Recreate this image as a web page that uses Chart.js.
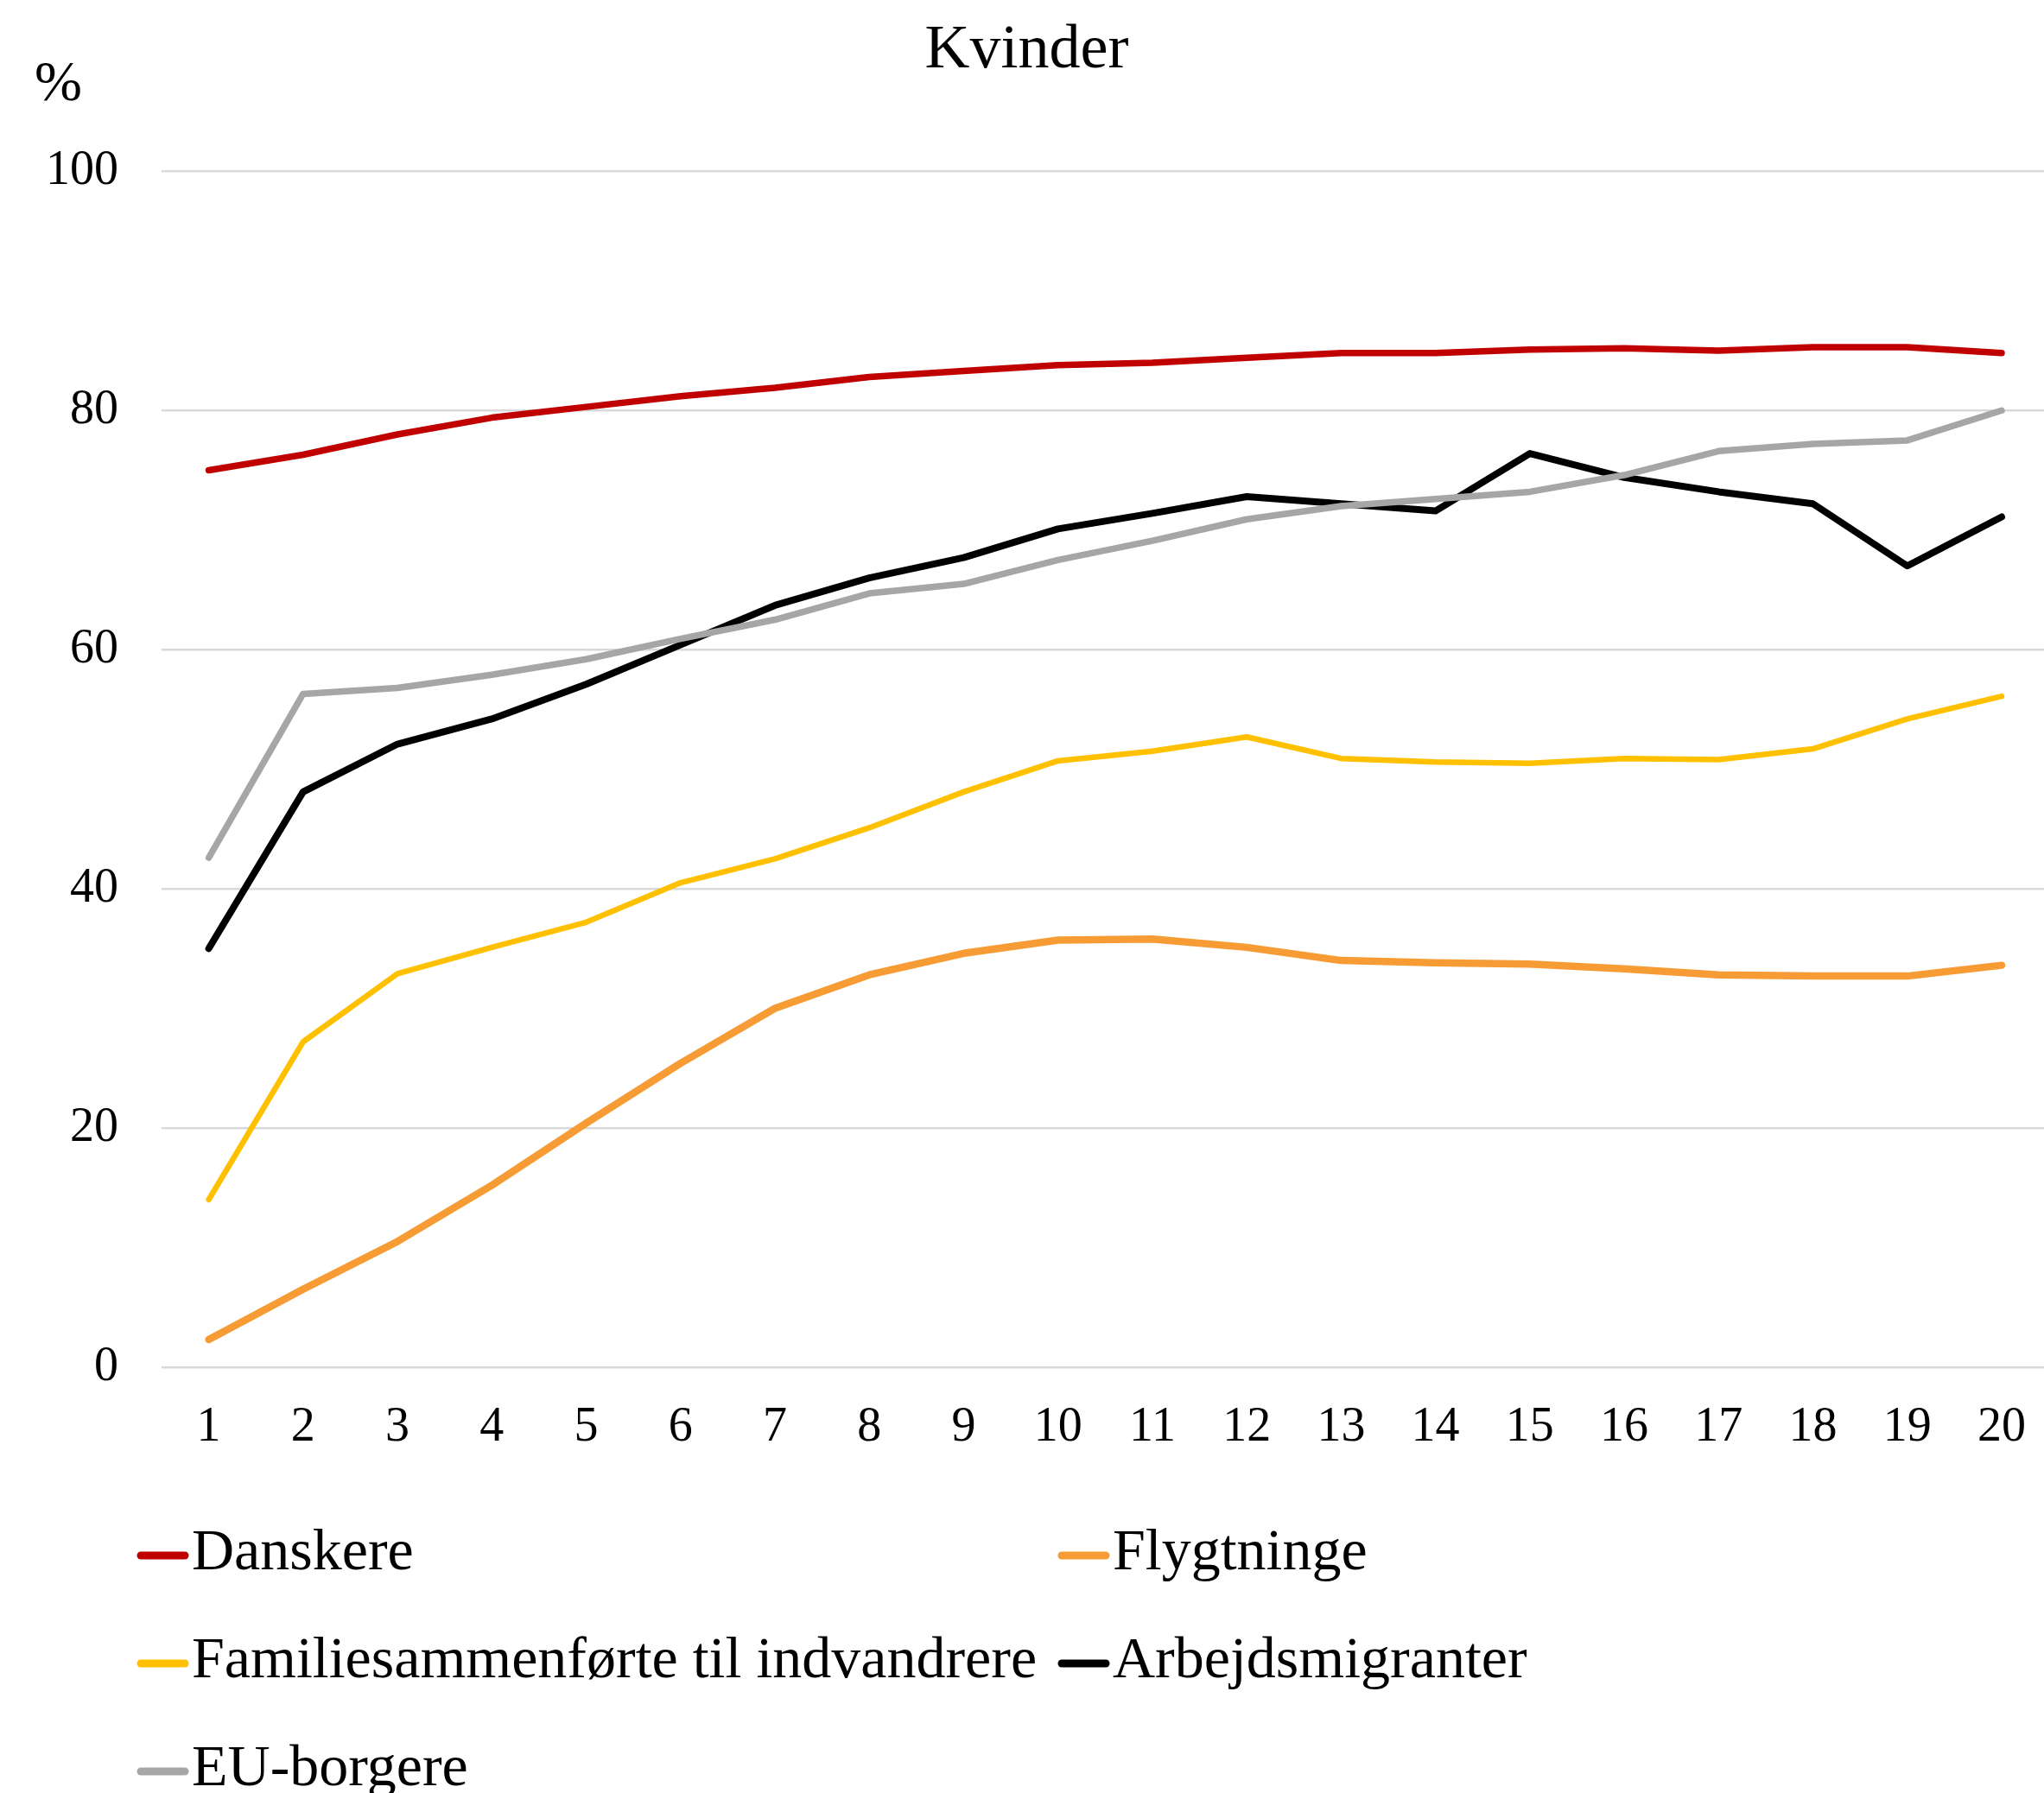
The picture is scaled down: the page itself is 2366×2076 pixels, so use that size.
<!DOCTYPE html>
<html>
<head>
<meta charset="utf-8">
<title>Kvinder</title>
<script src="https://cdn.jsdelivr.net/npm/chart.js@4.4.1/dist/chart.umd.min.js"></script>
<style>
  html, body { margin: 0; padding: 0; background: #fff; overflow: hidden; }
</style>
</head>
<body>
<canvas id="chart" width="2374" height="2076"></canvas>
<script>
// År i Danmark (x-aksen)
var years = ['1', '2', '3', '4', '5', '6', '7', '8', '9', '10',
             '11', '12', '13', '14', '15', '16', '17', '18', '19', '20'];

// Andel i beskæftigelse, kvinder (%)
var danskere = [75.0, 76.3, 78.0, 79.4, 80.3, 81.2, 81.9, 82.8, 83.3, 83.8,
                84.0, 84.4, 84.8, 84.8, 85.1, 85.2, 85.0, 85.3, 85.3, 84.8];
var flygtninge = [2.3, 6.5, 10.5, 15.2, 20.4, 25.4, 30.0, 32.8, 34.6, 35.7,
                  35.8, 35.1, 34.0, 33.8, 33.7, 33.3, 32.8, 32.7, 32.7, 33.6];
var familie = [14.0, 27.2, 32.9, 35.1, 37.2, 40.5, 42.5, 45.1, 48.1, 50.7,
               51.5, 52.7, 50.9, 50.6, 50.5, 50.9, 50.8, 51.7, 54.2, 56.1];
var arbejds = [35.0, 48.1, 52.1, 54.2, 57.1, 60.4, 63.7, 66.0, 67.7, 70.1,
               71.4, 72.8, 72.2, 71.6, 76.4, 74.4, 73.2, 72.2, 67.0, 71.1];
var euBorgere = [42.6, 56.3, 56.8, 57.9, 59.2, 60.9, 62.5, 64.7, 65.5, 67.5,
                 69.1, 70.9, 72.0, 72.6, 73.2, 74.6, 76.6, 77.2, 77.5, 80.0];

var yTicks = [0, 20, 40, 60, 80, 100];

var serif = '"Liberation Serif", "Times New Roman", "DejaVu Serif", serif';

function makeLine(label, data, color, width, order) {
    return {
        label: label,
        data: data,
        borderColor: color,
        backgroundColor: color,
        borderWidth: width,
        pointRadius: 0,
        pointHoverRadius: 0,
        tension: 0,
        borderCapStyle: 'round',
        borderJoinStyle: 'round',
        fill: false,
        order: order
    };
}

// "%" over y-aksen og legend i to kolonner under grafen
var extrasPlugin = {
    id: 'extras',
    afterDraw: function(chart) {
        var ctx = chart.ctx;
        ctx.save();
        ctx.fillStyle = '#000';
        ctx.font = '66px ' + serif;
        ctx.textAlign = 'left';
        ctx.textBaseline = 'middle';
        ctx.fillText('%', 40, 99);

        var colX = [159, 1225];
        var rowY = [1801, 1926, 2051];
        ctx.font = '68px ' + serif;
        chart.data.datasets.forEach(function(ds, i) {
            var x = colX[i % 2];
            var y = rowY[Math.floor(i / 2)];
            ctx.strokeStyle = ds.borderColor;
            ctx.lineWidth = 9;
            ctx.lineCap = 'round';
            ctx.beginPath();
            ctx.moveTo(x + 4, y);
            ctx.lineTo(x + 55, y);
            ctx.stroke();
            ctx.fillStyle = '#000';
            ctx.fillText(ds.label, x + 63, y - 2);
        });
        ctx.restore();
    }
};

var ctx = document.getElementById('chart').getContext('2d');
var chart = new Chart(ctx, {
    type: 'line',
    data: {
        labels: years,
        datasets: [
            makeLine('Danskere', danskere, '#C00000', 7.5, 5),
            makeLine('Flygtninge', flygtninge, '#F79B34', 8.5, 4),
            makeLine('Familiesammenførte til indvandrere', familie, '#FFC000', 6.5, 3),
            makeLine('Arbejdsmigranter', arbejds, '#000000', 8, 2),
            makeLine('EU-borgere', euBorgere, '#A6A6A6', 7.5, 1)
        ]
    },
    options: {
        responsive: false,
        animation: false,
        events: [],
        layout: {
            padding: { left: 3, right: 0, top: 0, bottom: 360 }
        },
        plugins: {
            legend: { display: false },
            tooltip: { enabled: false },
            title: {
                display: true,
                text: 'Kvinder',
                color: '#000',
                font: { family: serif, size: 72, weight: 'normal' },
                padding: { top: 16, bottom: 96 }
            }
        },
        scales: {
            x: {
                offset: true,
                grid: { display: false },
                border: { display: false },
                ticks: {
                    color: '#000',
                    font: { family: serif, size: 56 },
                    padding: 29,
                    maxRotation: 0,
                    autoSkip: false
                }
            },
            y: {
                min: 0,
                max: 100,
                afterBuildTicks: function(axis) {
                    axis.ticks = yTicks.map(function(v) { return { value: v }; });
                },
                grid: { color: '#D9D9D9', lineWidth: 2.5, drawTicks: false },
                border: { display: false },
                ticks: {
                    color: '#000',
                    font: { family: serif, size: 56 },
                    padding: 50
                }
            }
        }
    },
    plugins: [extrasPlugin]
});
</script>
</body>
</html>
